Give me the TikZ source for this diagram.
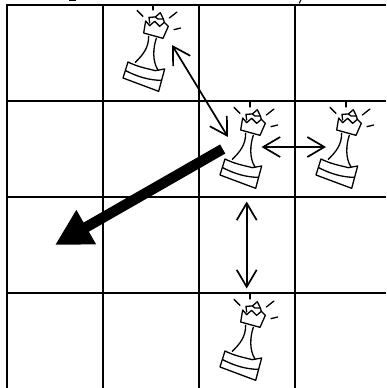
\documentclass[tikz,border=0pt]{standalone}
\usetikzlibrary{arrows.meta}
\tikzset{
  gridline/.style={line width=2pt,black},
  piece/.pic={
    \begin{scope}[x=0.3333pt,y=-0.3333pt,line width=1.3pt,line join=round,line cap=round]
      % base
      \draw (75,207) .. controls (105,222) and (130,226) .. (157,233) -- (185,228) -- (167,295) -- (60,255) -- cycle;
      \draw (68,233) .. controls (105,252) and (140,262) .. (176,262);
      % stem
      \draw (97,208) .. controls (120,185) and (137,165) .. (137,130);
      \draw (160,136) .. controls (150,165) and (148,205) .. (165,231);
      % crown
      \draw (122,120) -- (128,84) -- (140,98) -- (155,85) -- (170,100) -- (184,88) -- (196,100) -- (180,136) -- cycle;
      \draw (140,90) -- (138,73) -- (157,72) -- (172,59) -- (181,78) -- (184,88);
      \draw (157,72) -- (165,78) -- (181,78);
      % rays
      \draw (150,36) -- (150,51);
      \draw (102,52) -- (120,70);
      \draw (222,57) -- (199,75);
      \draw (233,105) -- (213,110);
    \end{scope}
  },
  thinarrow/.style={line width=1.7pt,{Straight Barb[length=17pt,width=20pt,line width=1.7pt]}-{Straight Barb[length=17pt,width=20pt,line width=1.7pt]}},
  bigarrow/.style={line width=10.5pt,-{Triangle[length=36pt,width=37pt]}}
}
\begin{document}
\begin{tikzpicture}[x=1pt,y=-1pt]
\useasboundingbox (0,0) rectangle (386,388);
\fill[white] (0,0) rectangle (386,388);
% clipped remains of a text line above the grid
\draw[line width=0.8pt] (69,0.3) -- (76,0.3);
\draw[line width=1pt] (301,0) -- (299,3.5);
% grid
\foreach \x in {7,103,199,295} \draw[gridline] (\x,4) -- (\x,388);
\foreach \y in {5,101,197,293} \draw[gridline] (6,\y) -- (386,\y);
% pieces
\pic at (103,-7) {piece};
\pic at (200,90) {piece};
\pic at (296,90) {piece};
\pic at (200,282) {piece};
% arrow ends
\coordinate (a1) at (172,45);
\coordinate (a2) at (228,137);
\coordinate (b1) at (261.5,147);
\coordinate (b2) at (326,147);
\coordinate (c1) at (246.7,201.5);
\coordinate (c2) at (246.7,288.5);
\coordinate (d1) at (222.7,149);
\coordinate (d2) at (55,245);
\draw[thinarrow] (a1) -- (a2);
\draw[thinarrow] (b1) -- (b2);
\draw[thinarrow] (c1) -- (c2);
\draw[bigarrow] (d1) -- (d2);
\end{tikzpicture}
\end{document}
